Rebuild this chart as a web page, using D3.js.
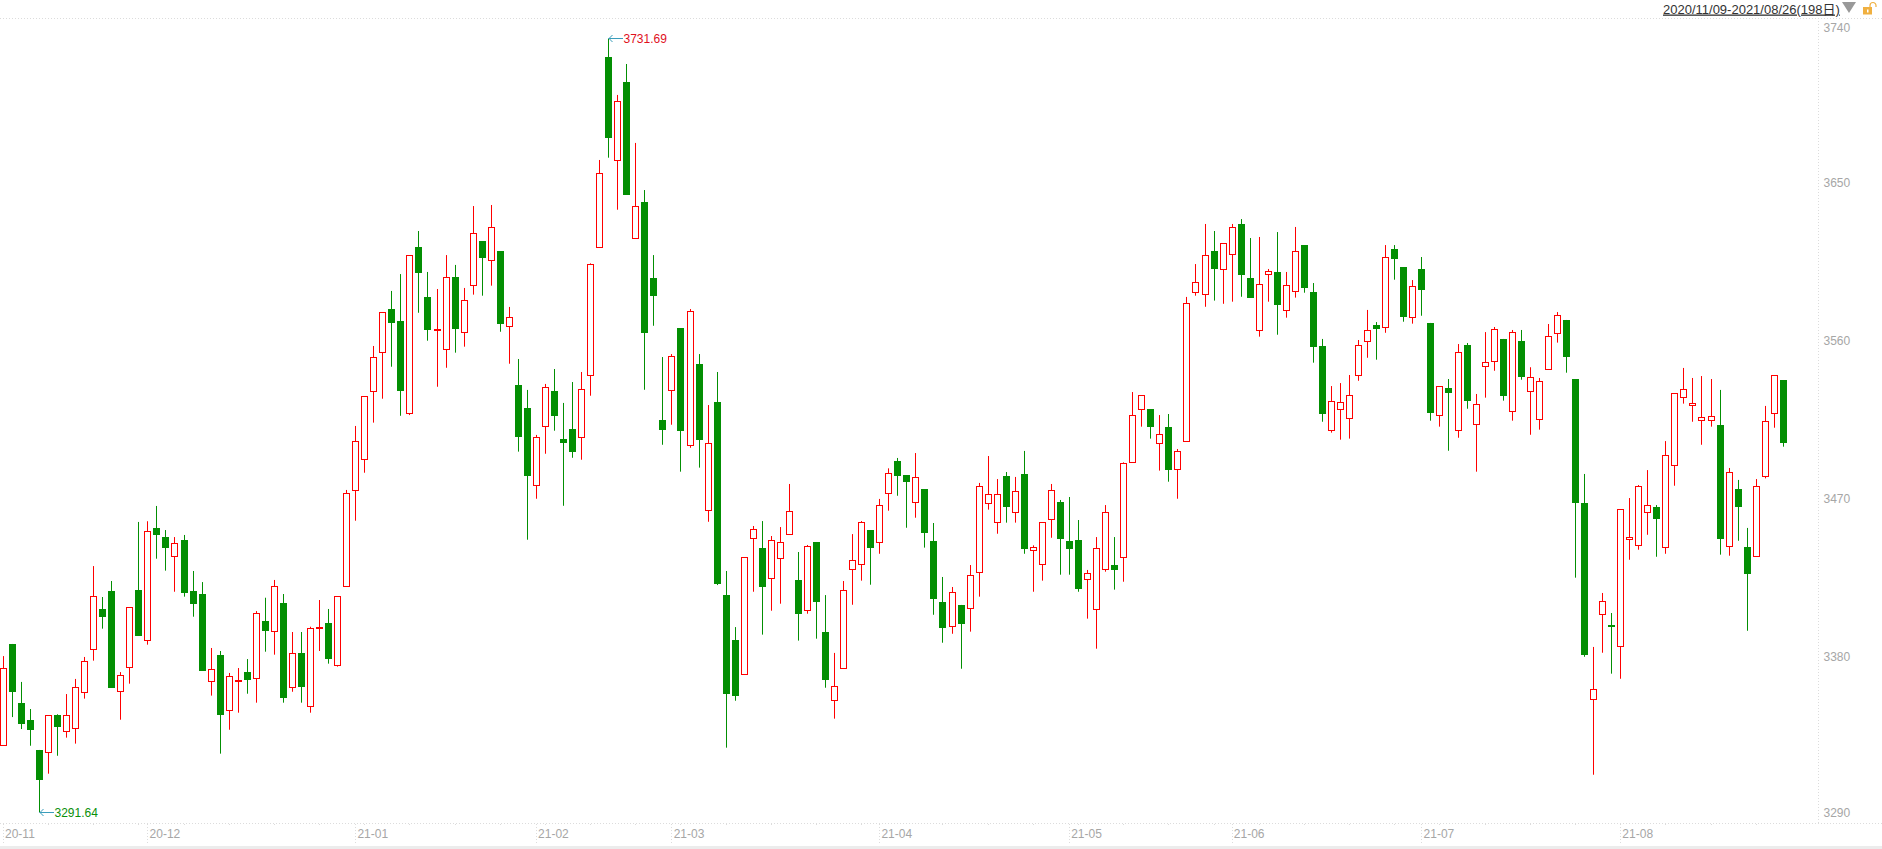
<!DOCTYPE html>
<html>
<head>
<meta charset="utf-8">
<script src="https://cdnjs.cloudflare.com/ajax/libs/d3/7.8.5/d3.min.js"></script>
<style>
  html, body { margin: 0; padding: 0; background: #fff; overflow: hidden; }
  svg { display: block; }
  text { font-family: "Liberation Sans", "Noto Sans CJK SC", sans-serif; }
</style>
</head>
<body>
<svg id="chart" width="1882" height="849"></svg>
<script>
const opens = [
  3329.5,3387.4,3353.8,3344.1,3327.1,3325.5,3346.8,3337.7,3339.4,3359.9,
  3384.4,3407.3,3417.5,3360.5,3374.1,3418.1,3389.5,3453.4,3448.2,3437.3,
  3446.5,3417.5,3415.8,3366.2,3381.1,3349.7,3366.5,3371.4,3367.9,3400.5,
  3394.6,3410.7,3362.7,3382.3,3351.9,3396.9,3399.3,3375.3,3420.2,3474.8,
  3492.4,3531.1,3553.3,3577.9,3571.1,3518.6,3613.2,3584.8,3566.2,3555.0,
  3596.1,3564.7,3591.4,3616.6,3605.6,3610.9,3568.1,3534.7,3521.6,3477.6,
  3511.2,3531.3,3504.0,3509.7,3504.9,3540.2,3613.0,3721.3,3662.5,3707.1,
  3618.1,3638.8,3595.6,3514.8,3531.7,3567.1,3500.4,3546.6,3463.4,3525.0,
  3415.2,3389.6,3370.1,3447.5,3442.0,3424.7,3436.1,3449.8,3423.8,3406.5,
  3445.4,3394.2,3355.3,3373.5,3429.9,3432.7,3452.2,3445.2,3473.1,3491.5,
  3483.5,3468.0,3475.5,3446.0,3411.3,3397.4,3409.6,3407.7,3428.2,3467.4,
  3456.6,3482.9,3462.3,3484.1,3440.7,3432.7,3458.3,3468.1,3446.0,3446.5,
  3424.2,3407.1,3429.9,3432.3,3436.7,3490.7,3520.9,3521.0,3501.5,3510.8,
  3486.7,3502.7,3587.4,3586.3,3610.9,3600.5,3609.0,3626.3,3595.6,3565.8,
  3597.7,3599.0,3577.2,3588.0,3614.3,3587.6,3556.9,3508.9,3520.9,3515.8,
  3540.2,3559.6,3568.8,3567.5,3612.1,3601.8,3573.2,3600.7,3570.0,3517.5,
  3533.0,3508.9,3557.5,3512.3,3545.3,3548.2,3560.9,3519.7,3559.7,3531.1,
  3515.2,3543.6,3564.1,3571.7,3538.1,3467.6,3355.9,3404.3,3398.2,3386.1,
  3446.9,3443.5,3462.3,3465.3,3442.4,3489.0,3527.7,3523.2,3514.6,3514.6,
  3511.9,3442.9,3475.5,3442.5,3437.3,3482.8,3518.6,3537.5
];
const closes = [
  3373.5,3360.2,3342.0,3338.6,3310.2,3346.8,3339.8,3346.8,3362.7,3377.5,
  3414.5,3402.9,3362.5,3369.6,3408.2,3392.1,3451.5,3449.5,3442.2,3444.7,
  3416.6,3410.3,3372.2,3373.0,3347.2,3369.0,3366.7,3367.1,3404.8,3394.9,
  3420.2,3356.8,3382.1,3363.1,3396.3,3397.0,3379.0,3414.5,3473.1,3502.7,
  3528.3,3550.5,3576.1,3570.1,3531.5,3608.5,3598.6,3566.2,3566.4,3596.0,
  3566.7,3582.9,3621.0,3607.1,3624.4,3569.6,3573.2,3505.3,3483.1,3504.9,
  3533.4,3517.2,3501.9,3496.8,3532.3,3603.4,3655.1,3675.4,3696.1,3642.9,
  3636.4,3564.4,3585.5,3509.3,3551.0,3508.7,3576.6,3503.6,3501.5,3421.7,
  3359.1,3358.0,3436.7,3452.6,3420.0,3446.4,3445.2,3462.9,3404.6,3443.0,
  3411.4,3367.1,3363.3,3417.9,3435.0,3456.6,3442.2,3466.3,3484.5,3483.1,
  3479.7,3482.2,3450.7,3413.1,3396.6,3416.8,3398.9,3426.5,3477.1,3472.5,
  3472.5,3465.5,3474.2,3441.6,3442.4,3456.6,3474.8,3447.3,3441.6,3418.8,
  3427.6,3441.8,3462.3,3429.6,3490.2,3517.5,3528.8,3511.0,3506.7,3486.5,
  3497.0,3581.2,3593.1,3608.5,3600.9,3615.3,3624.4,3597.4,3584.4,3592.0,
  3599.4,3580.4,3591.4,3610.8,3590.0,3556.5,3518.4,3525.4,3524.9,3528.8,
  3557.3,3565.8,3566.7,3607.3,3606.5,3573.6,3590.8,3588.9,3518.9,3534.0,
  3530.3,3553.3,3525.8,3523.7,3547.6,3566.4,3528.6,3564.7,3539.4,3539.1,
  3536.8,3562.4,3574.3,3550.8,3467.7,3381.3,3361.6,3411.7,3397.0,3464.0,
  3448.1,3477.1,3466.3,3458.6,3494.7,3530.0,3532.3,3524.3,3516.3,3516.9,
  3447.3,3485.0,3465.5,3427.4,3477.1,3514.1,3540.2,3501.9
];
const highs = [
  3380.5,3387.4,3365.8,3350.4,3327.1,3346.8,3347.4,3358.9,3367.5,3380.0,
  3431.7,3414.1,3423.2,3371.4,3408.2,3456.8,3457.2,3465.9,3452.2,3448.2,
  3449.4,3428.9,3422.6,3385.1,3383.4,3370.9,3373.7,3378.8,3406.1,3413.7,
  3423.8,3415.8,3394.2,3394.2,3397.2,3412.4,3407.3,3414.5,3475.0,3511.4,
  3528.3,3556.9,3576.1,3588.2,3597.8,3608.5,3622.3,3599.0,3589.3,3608.6,
  3603.0,3589.9,3636.5,3616.6,3637.1,3610.9,3579.1,3549.5,3531.9,3506.3,
  3535.3,3543.8,3524.5,3536.4,3542.1,3603.9,3662.7,3731.69,3699.7,3717.3,
  3672.4,3645.6,3608.6,3550.6,3552.3,3567.1,3577.9,3552.3,3523.3,3542.1,
  3428.9,3397.0,3436.7,3454.5,3457.3,3448.8,3453.9,3478.4,3439.7,3443.7,
  3445.4,3415.2,3382.3,3423.2,3449.9,3457.3,3452.2,3469.9,3487.3,3493.2,
  3483.5,3496.0,3475.5,3456.2,3425.5,3419.8,3409.6,3432.3,3479.0,3494.3,
  3481.2,3485.2,3482.4,3497.2,3443.5,3456.6,3478.4,3469.3,3471.0,3457.9,
  3429.5,3448.2,3466.4,3448.2,3490.7,3530.7,3528.8,3521.0,3517.6,3518.2,
  3498.3,3584.8,3603.5,3626.3,3622.3,3615.3,3626.3,3629.1,3618.3,3618.9,
  3600.7,3621.7,3599.0,3624.6,3614.3,3592.7,3560.9,3534.1,3535.8,3540.4,
  3560.3,3577.4,3570.5,3614.3,3614.3,3601.8,3594.4,3607.5,3570.0,3534.0,
  3538.1,3558.0,3558.6,3529.6,3564.8,3567.7,3560.9,3566.0,3566.0,3544.8,
  3538.7,3569.4,3576.2,3571.7,3538.1,3484.1,3385.7,3416.4,3405.0,3464.0,
  3470.4,3477.8,3486.3,3466.4,3502.8,3530.0,3544.4,3538.7,3539.8,3538.1,
  3531.9,3487.5,3480.7,3453.4,3481.2,3522.8,3540.2,3537.5
];
const lows = [
  3329.5,3345.8,3339.0,3329.5,3291.64,3313.6,3323.8,3334.1,3330.7,3356.3,
  3377.9,3396.1,3362.5,3344.3,3364.8,3392.1,3387.0,3435.9,3429.1,3417.1,
  3414.3,3402.9,3372.2,3358.0,3325.0,3338.6,3348.3,3359.1,3354.0,3383.0,
  3381.3,3354.0,3360.2,3354.0,3348.3,3383.4,3376.2,3374.5,3420.2,3457.5,
  3484.8,3513.3,3526.9,3545.1,3517.2,3517.6,3575.8,3559.9,3533.7,3544.5,
  3553.1,3556.5,3586.1,3585.5,3591.2,3565.0,3546.8,3496.8,3446.7,3470.0,
  3495.6,3508.7,3466.0,3493.3,3492.2,3528.6,3613.0,3664.0,3634.4,3642.9,
  3618.1,3532.0,3568.4,3500.7,3512.1,3485.4,3499.0,3487.7,3456.9,3420.9,
  3328.4,3355.1,3370.1,3417.1,3392.7,3406.3,3410.3,3449.8,3389.3,3404.6,
  3390.4,3362.5,3344.9,3373.5,3409.7,3423.4,3421.1,3438.7,3463.2,3471.7,
  3453.5,3459.2,3442.2,3404.0,3388.1,3393.2,3373.3,3394.4,3414.3,3463.8,
  3450.1,3456.4,3456.4,3438.7,3417.1,3423.4,3447.8,3426.8,3426.8,3417.1,
  3401.8,3384.7,3428.5,3418.3,3422.8,3490.7,3511.0,3504.2,3486.0,3479.7,
  3470.0,3502.7,3585.5,3579.2,3582.7,3580.9,3582.1,3584.9,3584.4,3562.2,
  3582.1,3563.3,3573.0,3584.4,3587.2,3547.4,3513.8,3507.6,3503.6,3504.2,
  3537.1,3550.2,3549.1,3564.4,3594.6,3570.7,3569.6,3574.1,3514.4,3511.0,
  3497.3,3504.7,3521.2,3485.4,3527.5,3542.8,3525.8,3514.4,3537.7,3506.4,
  3509.3,3543.6,3558.8,3541.7,3425.1,3380.1,3313.0,3382.4,3370.5,3367.6,
  3435.3,3441.0,3449.5,3437.0,3438.7,3477.4,3524.1,3513.8,3500.7,3511.0,
  3438.2,3437.6,3446.1,3394.9,3437.3,3481.6,3510.4,3499.6
];

const priceTicks = [3740, 3650, 3560, 3470, 3380, 3290];
const monthLabels = ["20-11", "20-12", "21-01", "21-02", "21-03", "21-04", "21-05", "21-06", "21-07", "21-08"];
const monthStarts = [0, 16, 39, 59, 74, 97, 118, 136, 157, 179];
const minorTicks = d3.range(5, 100, 5).concat(d3.range(104, 198, 5));
const rangeLabel = "2020/11/09-2021/08/26(198日)";
const highLabel = "3731.69";
const lowLabel = "3291.64";
const highIndex = 67;
const lowIndex = 4;

const UP = "#ff0000";
const DOWN = "#038f03";
const GRID = "#dcdcdc";
const AXIS_TEXT = "#a6a6a6";

const svg = d3.select("#chart");

const x = d3.scaleLinear().domain([0, 197]).range([3.3, 1783.3]);
const y = d3.scaleLinear().domain([3731.69, 3291.64]).range([38.7, 812.3]);

// snap to the pixel grid so the 1px lines stay sharp
const px = v => Math.floor(v) + 0.5;

// frame
const frame = svg.append("g").attr("stroke", GRID).attr("stroke-dasharray", "1,2");
frame.append("line").attr("x1", 0).attr("x2", 1882).attr("y1", 18.5).attr("y2", 18.5);
frame.append("line").attr("x1", 0).attr("x2", 1882).attr("y1", 823.5).attr("y2", 823.5);
frame.append("line").attr("x1", 1818.5).attr("x2", 1818.5).attr("y1", 18).attr("y2", 823);

// bottom band
svg.append("rect").attr("x", 0).attr("y", 846).attr("width", 1882).attr("height", 3).attr("fill", "#ececec");

// price axis, the two end labels get pushed inside the plot
const yAxis = d3.axisRight(y).tickValues(priceTicks).tickSize(0).tickPadding(0).tickFormat(d3.format("d"));
const yAxisG = svg.append("g").attr("transform", "translate(1823.5,0)").call(yAxis);
yAxisG.select(".domain").remove();
yAxisG.selectAll("text")
  .attr("fill", AXIS_TEXT)
  .style("font-size", "12px")
  .attr("dy", d => d === 3740 ? "0.6em" : d === 3290 ? "0.15em" : "0.32em");

// month axis
const xAxis = svg.append("g");
xAxis.selectAll(".month-line")
  .data(monthStarts)
  .join("line")
  .attr("class", "month-line")
  .attr("x1", d => px(x(d)))
  .attr("x2", d => px(x(d)))
  .attr("y1", 824)
  .attr("y2", 843)
  .attr("stroke", GRID)
  .attr("stroke-dasharray", "1,2");
xAxis.selectAll(".minor-tick")
  .data(minorTicks)
  .join("line")
  .attr("class", "minor-tick")
  .attr("x1", d => px(x(d)))
  .attr("x2", d => px(x(d)))
  .attr("y1", 824)
  .attr("y2", 827)
  .attr("stroke", GRID)
  .attr("stroke-dasharray", "1,2");
xAxis.selectAll(".month-label")
  .data(monthLabels)
  .join("text")
  .attr("class", "month-label")
  .attr("x", (d, i) => x(monthStarts[i]) + 1.7)
  .attr("y", 837.5)
  .attr("fill", AXIS_TEXT)
  .style("font-size", "12px")
  .text(d => d);

// candles
const candles = svg.append("g")
  .selectAll("g")
  .data(d3.range(opens.length))
  .join("g")
  .attr("stroke", i => closes[i] >= opens[i] ? UP : DOWN);

candles.append("line")
  .attr("x1", i => px(x(i)))
  .attr("x2", i => px(x(i)))
  .attr("y1", i => y(highs[i]))
  .attr("y2", i => y(lows[i]));

candles.filter(i => closes[i] >= opens[i]).append("rect")
  .attr("x", i => px(x(i)) - 3)
  .attr("width", 6)
  .attr("y", i => px(y(closes[i])))
  .attr("height", i => Math.max(1, Math.round(y(opens[i]) - y(closes[i]))))
  .attr("fill", "#fff");

candles.filter(i => closes[i] < opens[i]).append("rect")
  .attr("x", i => px(x(i)) - 3.5)
  .attr("width", 7)
  .attr("y", i => Math.round(y(opens[i])))
  .attr("height", i => Math.max(2, Math.round(y(closes[i]) - y(opens[i]))))
  .attr("fill", DOWN)
  .attr("stroke", "none");

// high / low markers
function marker(index, value, label, color) {
  const mx = px(x(index));
  const my = px(y(value));
  const g = svg.append("g");
  g.append("path")
    .attr("d", `M${mx},${my}H${mx + 14.5}M${mx + 4},${my - 3.5}L${mx + 0.5},${my}L${mx + 4},${my + 3.5}`)
    .attr("fill", "none")
    .attr("stroke", "#3a9dbb");
  g.append("text")
    .attr("x", mx + 15)
    .attr("y", my + 4.5)
    .attr("fill", color)
    .style("font-size", "12px")
    .text(label);
}
marker(highIndex, highs[highIndex], highLabel, "#e0101c");
marker(lowIndex, lows[lowIndex], lowLabel, "#0a8f0a");

// date range control top right
svg.append("text")
  .attr("x", 1663)
  .attr("y", 13.5)
  .attr("fill", "#333")
  .attr("text-decoration", "underline")
  .style("font-size", "13px")
  .text(rangeLabel);
svg.append("path").attr("d", "M1842,2H1856L1849,13Z").attr("fill", "#999");
svg.append("rect").attr("x", 1863).attr("y", 7).attr("width", 9).attr("height", 7.5).attr("fill", "#f0b040");
svg.append("rect").attr("x", 1867).attr("y", 9.5).attr("width", 1.5).attr("height", 3).attr("fill", "#fff");
svg.append("path").attr("d", "M1870,7V5.5A3,3 0 0 1 1876,5.5V7").attr("fill", "none").attr("stroke", "#f0b040").attr("stroke-width", 1.2);
</script>
</body>
</html>
